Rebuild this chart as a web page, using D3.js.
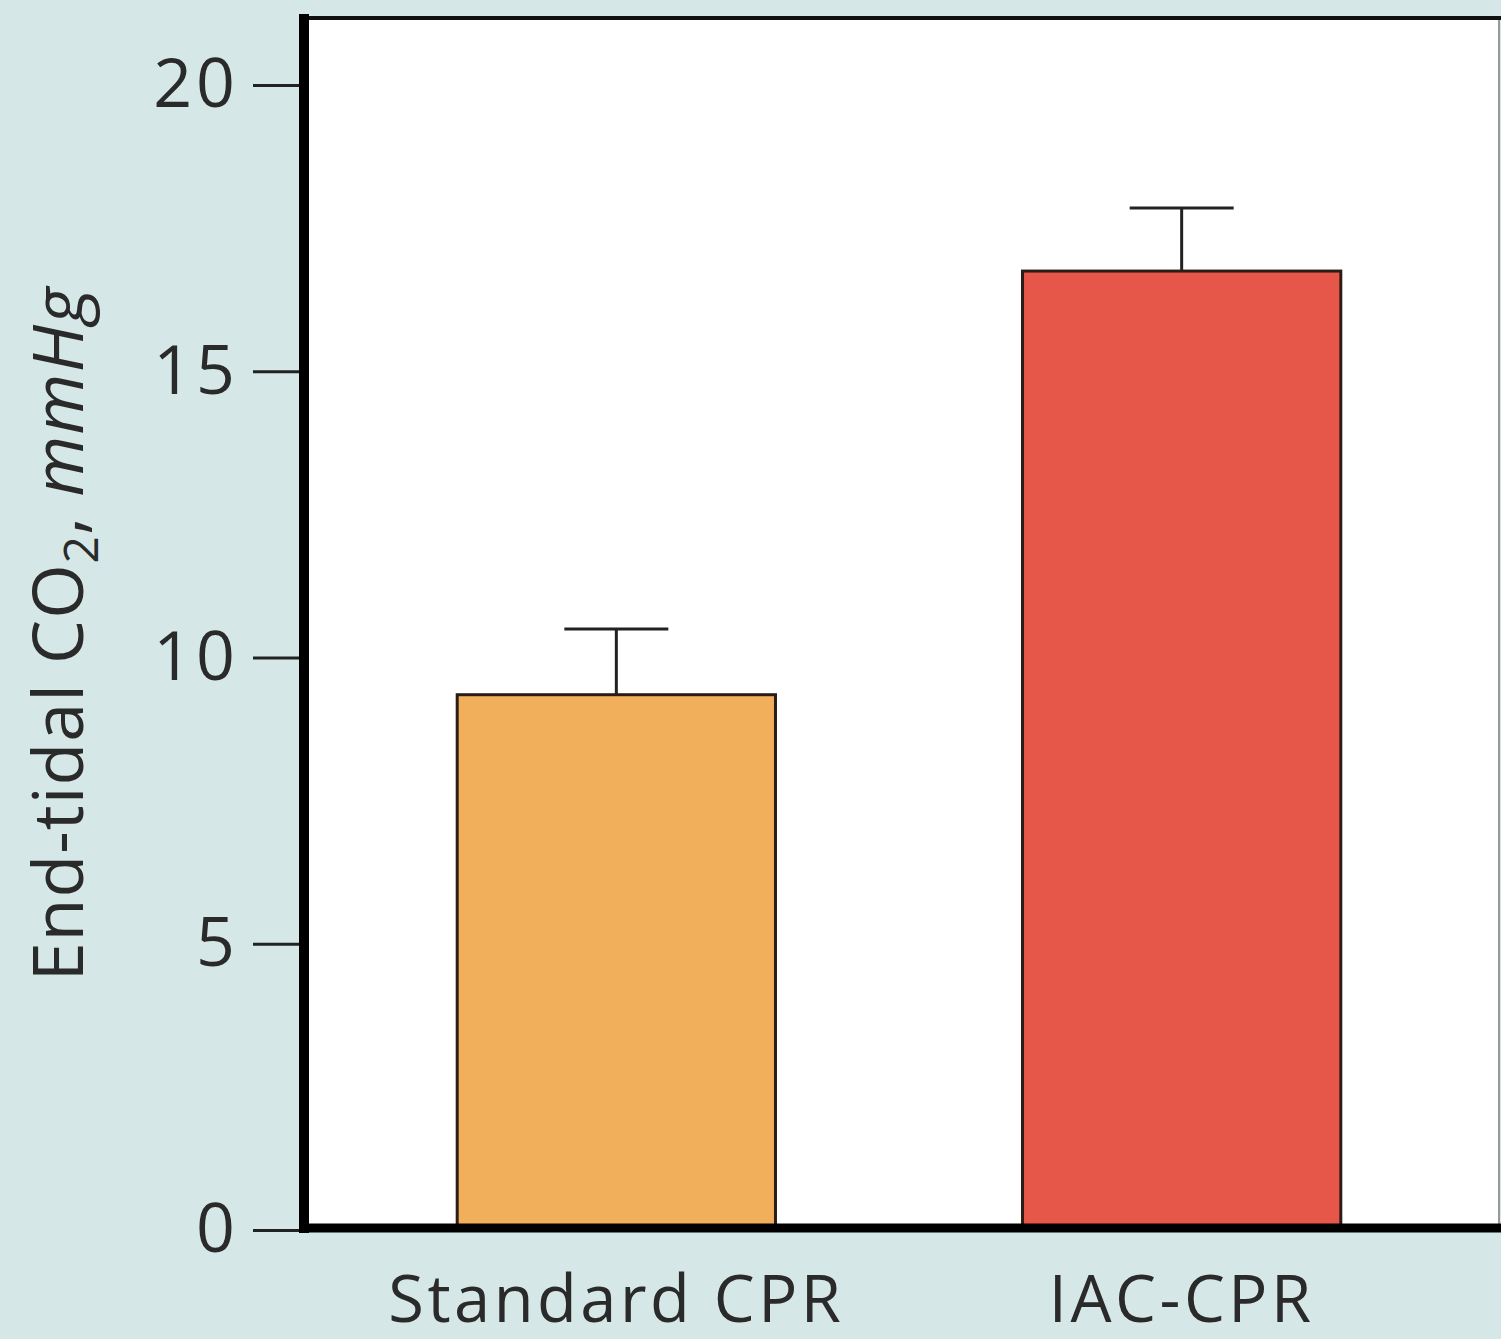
<!DOCTYPE html>
<html>
<head>
<meta charset="utf-8">
<script src="https://cdn.jsdelivr.net/npm/d3@7"></script>
<style>
  body { margin: 0; background: #d5e8e7; }
  svg { display: block; }
  text { font-family: "Open Sans", sans-serif; fill: #2a2a2a; }
</style>
</head>
<body>
<div id="chart"></div>
<script>
// data
const groups = ["Standard CPR", "IAC-CPR"];
const means = [9.35, 16.75];
const errors = [1.15, 1.1];
const barColors = ["#f2af5b", "#e6574a"];
const yTicks = [0, 5, 10, 15, 20];

const width = 1501;
const height = 1339;
const plotLeft = 304, plotRight = 1499, plotTop = 18, plotBottom = 1228;

const svg = d3.select("#chart")
  .append("svg")
  .attr("width", width)
  .attr("height", height);

svg.append("rect")
  .attr("width", width)
  .attr("height", height)
  .attr("fill", "#d5e8e7");

//Plot area
svg.append("rect")
  .attr("x", plotLeft)
  .attr("y", plotTop)
  .attr("width", plotRight - plotLeft)
  .attr("height", plotBottom - plotTop)
  .attr("fill", "#fff");

// thin right edge
svg.append("line")
  .attr("x1", plotRight).attr("x2", plotRight)
  .attr("y1", plotTop).attr("y2", plotBottom)
  .attr("stroke", "#999")
  .attr("stroke-width", 2);

const y = d3.scaleLinear().domain([0, 20]).range([1230, 85]);

const x = d3.scaleBand()
  .domain(groups)
  .range([plotLeft, 1494])
  .paddingInner(0.437)
  .paddingOuter(0.271);

//Bars
svg.selectAll(".bar")
  .data(groups)
  .enter()
  .append("rect")
  .attr("class", "bar")
  .attr("x", (d) => x(d))
  .attr("y", (d, i) => y(means[i]))
  .attr("width", x.bandwidth())
  .attr("height", (d, i) => y(0) - y(means[i]))
  .attr("fill", (d, i) => barColors[i])
  .attr("stroke", "#2b1d16")
  .attr("stroke-width", 3);

//Error bars
const capW = 104;
const err = svg.selectAll(".err")
  .data(groups)
  .enter()
  .append("g")
  .attr("class", "err")
  .attr("stroke", "#222")
  .attr("stroke-width", 3);

err.append("line")
  .attr("x1", (d) => x(d) + x.bandwidth() / 2)
  .attr("x2", (d) => x(d) + x.bandwidth() / 2)
  .attr("y1", (d, i) => y(means[i]))
  .attr("y2", (d, i) => y(means[i] + errors[i]));

err.append("line")
  .attr("x1", (d) => x(d) + x.bandwidth() / 2 - capW / 2)
  .attr("x2", (d) => x(d) + x.bandwidth() / 2 + capW / 2)
  .attr("y1", (d, i) => y(means[i] + errors[i]))
  .attr("y2", (d, i) => y(means[i] + errors[i]));

//Y axis
const yAxis = svg.append("g")
  .attr("transform", `translate(${plotLeft}, 0)`)
  .call(d3.axisLeft(y).tickValues(yTicks).tickSize(51).tickPadding(14));

yAxis.select(".domain").remove();
yAxis.selectAll(".tick line").attr("stroke", "#222").attr("stroke-width", 3);
yAxis.selectAll(".tick text")
  .attr("fill", "#2a2a2a")
  .style("font-size", "68px")
  .style("letter-spacing", "4px")
  .style("font-family", "'Open Sans', sans-serif");

//Frame lines
svg.append("line")
  .attr("x1", plotLeft - 4).attr("x2", width)
  .attr("y1", plotTop).attr("y2", plotTop)
  .attr("stroke", "#111")
  .attr("stroke-width", 4);

svg.append("line")
  .attr("x1", plotLeft).attr("x2", plotLeft)
  .attr("y1", plotTop - 4).attr("y2", plotBottom + 5)
  .attr("stroke", "#000")
  .attr("stroke-width", 10);

svg.append("line")
  .attr("x1", plotLeft - 5).attr("x2", width)
  .attr("y1", plotBottom).attr("y2", plotBottom)
  .attr("stroke", "#000")
  .attr("stroke-width", 9);

//X labels
svg.selectAll(".xlabel")
  .data(groups)
  .enter()
  .append("text")
  .attr("class", "xlabel")
  .attr("x", (d) => x(d) + x.bandwidth() / 2)
  .attr("y", 1322)
  .attr("text-anchor", "middle")
  .style("font-size", "65px")
  .style("letter-spacing", "3.5px")
  .text((d) => d);

//Y label
const ylab = svg.append("text")
  .attr("transform", "translate(83, 634) rotate(-90)")
  .attr("text-anchor", "middle")
  .style("font-size", "70px")
  .style("letter-spacing", "1px");
ylab.append("tspan").text("End-tidal CO");
ylab.append("tspan").attr("dy", 15).style("font-size", "48px").text("2");
ylab.append("tspan").attr("dy", -15).text(", ");
ylab.append("tspan").style("font-style", "italic").text("mmHg");
</script>
</body>
</html>
